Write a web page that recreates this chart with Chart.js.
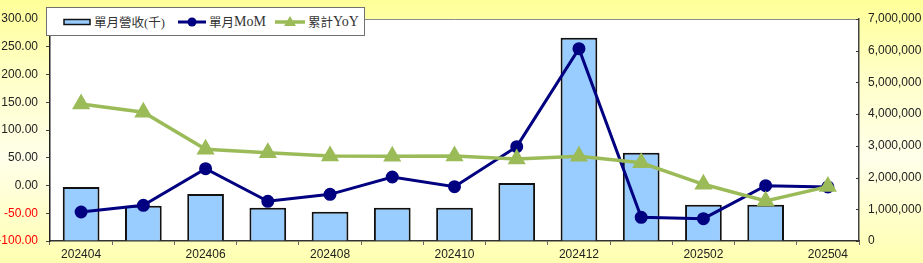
<!DOCTYPE html>
<html lang="zh-Hant">

<head>
  <meta charset="UTF-8">
  <title>營收</title>
  <script src="https://cdn.jsdelivr.net/npm/chart.js"></script>
  <style>
    html, body { margin: 0; padding: 0; }
    body {
      width: 923px;
      height: 263px;
      overflow: hidden;
      background: linear-gradient(to bottom, #FFFF99 0%, #FFFFC8 30%, #FFFFEA 60%, #FFFFB0 100%);
    }
    .wrap { position: relative; width: 923px; height: 263px; }
    canvas { position: absolute; left: 0; top: 0; }
    .legend {
      position: absolute;
      left: 46px; top: 7px;
      width: 317px; height: 27px;
      background: #fff;
      border: 1px solid #707070;
      font-family: "Liberation Serif", "Noto Sans CJK TC", serif;
      font-size: 12.5px;
      color: #333;
    }
    .legend .lat { font-size: 14px; }
    .item { position: absolute; top: 0; height: 27px; display: flex; align-items: center; }
    .item svg { margin-right: 3px; }
  </style>
</head>

<body>
  <div class="wrap">
    <canvas id="revChart" width="923" height="263"></canvas>
    <div class="legend">
      <div class="item" style="left:16px">
        <svg width="28" height="10"><rect x="1" y="2.5" width="26" height="5" fill="#99CCFF" stroke="#111" stroke-width="1.5"/></svg>單月營收(千)
      </div>
      <div class="item" style="left:131px">
        <svg width="28" height="12"><line x1="0" y1="6" x2="28" y2="6" stroke="#000080" stroke-width="3"/><circle cx="14" cy="6" r="4.5" fill="#000080"/></svg>單月<span class="lat">MoM</span>
      </div>
      <div class="item" style="left:228px">
        <svg width="30" height="14"><line x1="0" y1="7" x2="30" y2="7" stroke="#9BBB59" stroke-width="3.5"/><polygon points="15,1 21,11 9,11" fill="#9BBB59"/></svg>累計<span class="lat">YoY</span>
      </div>
    </div>
  </div>

  <script>
    const months = ["202404", "202405", "202406", "202407", "202408", "202409", "202410",
      "202411", "202412", "202501", "202502", "202503", "202504"];
    const revenue = [1700000, 1110000, 1480000, 1050000, 920000, 1050000, 1050000,
      1830000, 6410000, 2780000, 1140000, 1140000, null];
    const momPct = [-47.7, -35.7, 30.3, -28.5, -15.9, 15.3, -2.1, 70.0, 246.5, -57.3, -59.8, -0.3, -2.5];
    const yoyPct = [146.8, 131.9, 65.2, 59.1, 53.2, 52.6, 53.0, 47.7, 52.6, 41.0, 2.2, -28.0, -2.0];

    const axisFont = { family: "'Liberation Sans', Arial, sans-serif", size: 12 };

    // white plot area + top border
    const plotBg = {
      id: 'plotBg',
      beforeDraw(chart) {
        const { ctx, chartArea: a } = chart;
        ctx.save();
        ctx.fillStyle = '#fff';
        ctx.fillRect(a.left, a.top, a.right - a.left, a.bottom - a.top);
        ctx.strokeStyle = '#8c8c8c';
        ctx.lineWidth = 1;
        ctx.beginPath();
        ctx.moveTo(a.left, a.top + 0.5);
        ctx.lineTo(a.right, a.top + 0.5);
        ctx.stroke();
        ctx.restore();
      },
      afterDraw(chart) {
        // small inward ticks on right axis
        const { ctx, chartArea: a } = chart;
        const y1 = chart.scales.y1;
        ctx.save();
        ctx.strokeStyle = '#333';
        ctx.lineWidth = 1;
        y1.ticks.forEach(t => {
          const y = Math.round(y1.getPixelForValue(t.value)) + 0.5;
          ctx.beginPath();
          ctx.moveTo(a.right - 3, y);
          ctx.lineTo(a.right, y);
          ctx.stroke();
        });
        ctx.restore();
      }
    };

    new Chart(document.getElementById("revChart"), {
      type: 'bar',
      data: {
        labels: months,
        datasets: [{
          type: 'line',
          label: "單月MoM",
          data: momPct,
          yAxisID: 'y',
          borderColor: "#000080",
          backgroundColor: "#000080",
          borderWidth: 3,
          pointRadius: 5,
          pointHoverRadius: 5,
          tension: 0,
          order: 2
        }, {
          type: 'line',
          label: "累計YoY",
          data: yoyPct,
          yAxisID: 'y',
          borderColor: "#9BBB59",
          backgroundColor: "#9BBB59",
          borderWidth: 3.5,
          pointStyle: 'triangle',
          pointRadius: 7,
          pointHoverRadius: 7,
          tension: 0,
          order: 1
        }, {
          label: "單月營收(千)",
          data: revenue,
          yAxisID: 'y1',
          backgroundColor: "#99CCFF",
          borderColor: "#111",
          borderWidth: 2,
          barPercentage: 0.59,
          categoryPercentage: 1,
          order: 3
        }]
      },
      options: {
        responsive: false,
        animation: false,
        layout: { padding: { top: 19, left: 0, right: 0, bottom: 0 } },
        plugins: {
          legend: { display: false },
          tooltip: { enabled: false }
        },
        scales: {
          x: {
            afterFit: s => { s.height = 22; },
            border: { color: '#333', width: 1.5 },
            grid: { offset: true, drawOnChartArea: false, tickLength: 4, color: '#666' },
            ticks: {
              autoSkip: false,
              maxRotation: 0,
              padding: 2,
              color: '#222',
              font: axisFont,
              callback: function (v, i) { return i % 2 === 0 ? this.getLabelForValue(v) : ''; }
            }
          },
          y: {
            position: 'left',
            min: -100,
            max: 300,
            afterFit: s => { s.width = 50; },
            border: { color: '#222', width: 1.5 },
            grid: { drawOnChartArea: false, tickLength: 4, color: '#444' },
            ticks: {
              stepSize: 50,
              padding: 8,
              font: axisFont,
              color: ctx => ctx.tick.value < 0 ? '#FF0000' : '#222',
              callback: v => v.toFixed(2)
            }
          },
          y1: {
            position: 'right',
            min: 0,
            max: 7000000,
            afterFit: s => { s.width = 64; },
            border: { color: '#444', width: 1.5 },
            grid: { display: true, drawOnChartArea: false, drawTicks: false },
            ticks: {
              stepSize: 1000000,
              padding: 9,
              font: axisFont,
              color: '#222',
              callback: v => v.toLocaleString('en-US')
            }
          }
        }
      },
      plugins: [plotBg]
    });
  </script>
</body>

</html>
